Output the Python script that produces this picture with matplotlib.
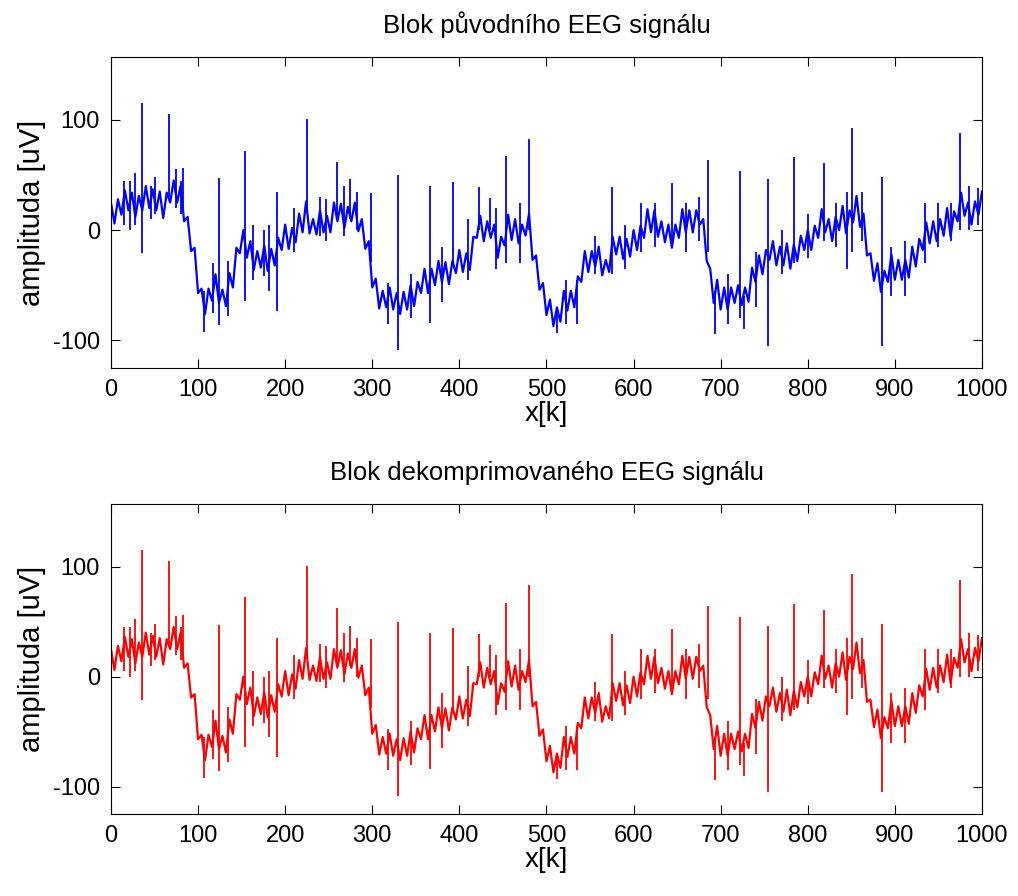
import matplotlib.pyplot as plt

# EEG block at every 4th sample (x[k] = 0, 4, ..., 1000)
k_step = list(range(0, 1001, 4))
eeg = [
    25, 6, 28, 14, 36, 18, 34, 12, 31, 18,
    40, 20, 37, 18, 35, 11, 34, 25, 45, 25,
    40, 8, 12, -19, -16, -57, -53, -76, -53, -64,
    -40, -66, -54, -69, -39, -52, -16, -21, 0, -25,
    -10, -36, -19, -34, -14, -37, -17, -32, -7, -18,
    5, -17, 2, -11, 15, -2, 26, -3, 10, -4,
    18, -2, 13, -2, 25, 8, 24, 2, 21, 8,
    25, -1, 10, -17, -10, -52, -44, -71, -55, -70,
    -52, -72, -57, -76, -56, -72, -50, -69, -47, -57,
    -35, -57, -35, -50, -28, -47, -29, -49, -28, -39,
    -18, -38, -21, -36, -6, -7, 13, -10, 8, -7,
    5, -25, -6, -14, 14, -9, 10, -12, 5, -5,
    15, -27, -23, -54, -48, -77, -63, -87, -70, -83,
    -55, -73, -55, -70, -42, -47, -19, -38, -19, -33,
    -15, -41, -27, -38, -6, -22, -6, -26, -8, -24,
    0, -18, 4, -7, 19, -2, 18, -6, 8, -11,
    5, -16, 5, -7, 19, -2, 18, -2, 18, 5,
    10, -28, -35, -66, -45, -72, -52, -72, -52, -66,
    -50, -68, -52, -65, -34, -47, -23, -40, -18, -27,
    -10, -32, -15, -32, -12, -35, -13, -28, -5, -18,
    0, -18, 4, -7, 19, -2, 10, -10, 12, 0,
    22, -3, 18, 7, 31, 3, 15, -23, -21, -46,
    -30, -56, -37, -47, -22, -45, -27, -45, -27, -43,
    -15, -33, -8, -18, 7, -12, 8, -10, 10, -5,
    20, -6, 17, 8, 34, 13, 25, 5, 26, 14,
    35,
]

# single-sample spikes: position, lowest and highest value
spike_k = [15, 22, 28, 36, 46, 50, 67, 75, 80, 83,
           107, 117, 124, 134, 154, 163, 176, 182, 191, 210,
           225, 240, 247, 260, 268, 275, 282, 298, 318, 329,
           345, 366, 380, 393, 410, 422, 435, 442, 453, 470,
           480, 512, 522, 535, 556, 575, 590, 608, 625, 644,
           660, 675, 685, 693, 708, 722, 727, 740, 754, 770,
           784, 800, 819, 832, 845, 851, 862, 885, 895, 912,
           935, 950, 965, 975, 985, 995]
spike_lo = [5, 0, 5, -21, 10, 15, 30, 20, 15, 20,
            -92, -75, -86, -78, -64, -45, -42, -55, -73, -20,
            20, -5, -10, 10, -5, 10, 0, -29, -85, -109,
            -80, -84, -65, -30, -45, 0, 0, -35, -30, -30,
            0, -93, -85, -85, -40, -40, -35, -20, -15, -10,
            -20, -10, -20, -94, -85, -80, -90, -70, -105, -40,
            -30, -25, -10, -15, -35, -20, -10, -105, -60, -60,
            -30, -15, -10, 0, 0, 5]
spike_hi = [45, 45, 52, 115, 40, 48, 105, 55, 45, 56,
            -55, -30, 47, -28, 72, 5, 0, 5, 35, 20,
            101, 30, 28, 62, 40, 46, 35, 34, -48, 50,
            -40, 40, -15, 44, 10, 39, 29, 20, 67, 25,
            83, -70, -45, -45, -5, 39, 5, 25, 25, 43,
            25, 30, 64, -55, -40, 54, -60, -20, 46, 0,
            66, 15, 61, 25, 35, 93, 35, 48, -15, -10,
            25, 25, 25, 88, 40, 38]

# the decompressed block cannot be told apart from the original in the picture
eeg_dec = list(eeg)

titles = ['Blok původního EEG signálu', 'Blok dekomprimovaného EEG signálu']

plt.rcParams['font.family'] = ['Liberation Sans', 'DejaVu Sans']
plt.rcParams['axes.unicode_minus'] = False

fig = plt.figure(figsize=(10.18, 8.96), dpi=100)
ax1 = fig.add_axes([0.109, 0.5893, 0.8556, 0.3471])
ax2 = fig.add_axes([0.109, 0.0915, 0.8556, 0.346])

for ax, y, col, t in [(ax1, eeg, '#0000ff', titles[0]), (ax2, eeg_dec, '#ff0000', titles[1])]:
    ax.plot(k_step, y, color=col, lw=1.6)
    ax.vlines(spike_k, spike_lo, spike_hi, color=col, lw=1.3)
    ax.set_xlim(0, 1000)
    ax.set_ylim(-125, 157)
    ax.set_xticks(range(0, 1001, 100))
    ax.set_yticks([-100, 0, 100])
    ax.tick_params(direction='in', top=True, right=True, length=6.5, width=0.8,
                   labelsize=17, pad=8)
    for s in ax.spines.values():
        s.set_linewidth(0.8)
    ax.set_title(t, fontsize=18.5, pad=17)
    ax.set_xlabel('x[k]', fontsize=20, labelpad=0)
    ax.set_ylabel('amplituda [uV]', fontsize=21, labelpad=5)

fig.savefig('out.png', dpi=100)
